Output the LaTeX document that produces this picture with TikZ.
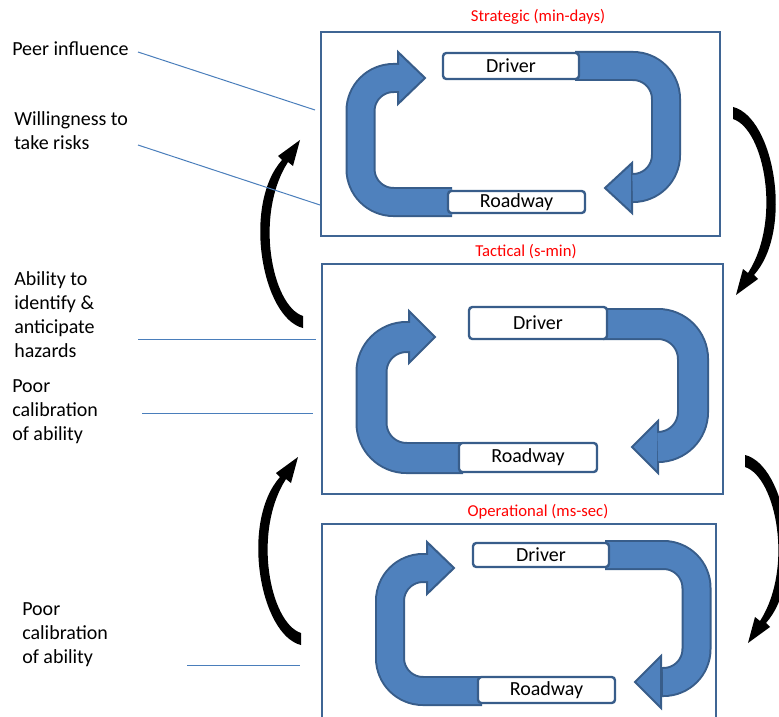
\documentclass[tikz,border=0pt]{standalone}
\usepackage{fontspec}
\setmainfont{Carlito}
\definecolor{rimcol}{HTML}{385D8A}
\definecolor{panelcol}{HTML}{3F6594}
\definecolor{bandcol}{HTML}{4F81BD}
\definecolor{leadcol}{HTML}{4A7EBB}
\begin{document}
\begin{tikzpicture}[x=0.75pt,y=-0.75pt,
  panel/.style={draw=panelcol, line width=1.8pt, inner sep=0},
  ptitle/.style={text=red, inner sep=0, font=\fontsize{12.5}{15}\selectfont},
  tagbox/.style={draw=rimcol, line width=1.8pt, fill=white, rounded corners=2.5pt,
    inner sep=0, font=\fontsize{15}{18}\selectfont},
  sidenote/.style={anchor=north west, align=left, inner sep=0,
    font=\fontsize{15}{18}\selectfont},
  leader/.style={draw=leadcol, line width=0.75pt},
  rim/.style={draw=rimcol, line width=#1},
  band/.style={draw=bandcol, line width=#1},
  uhead/.style={fill=bandcol, draw=rimcol, line width=1.5pt, line join=miter},
  swoosh/.pic={
    \fill[black] (20,98) .. controls (-21,88) and (-41,-25) .. (-1,-70)
      -- (-5,-74) -- (17,-90) -- (10,-64) -- (5,-68)
      .. controls (-29,-15) and (-11,76) .. (20,86) -- cycle;
  }]
\useasboundingbox (0,0) rectangle (779,717);

% ---------- panels ----------
\node[panel, minimum width=299.25pt, minimum height=153pt] (strategic) at (520.5,134) {};
\node[panel, minimum width=300.75pt, minimum height=172.5pt] (tactical) at (522.5,379) {};
\node[panel, minimum width=295.5pt, minimum height=154.5pt] (operational) at (519,627) {};

\node[ptitle] (t1) at (538,17) {Strategic (min-days)};
\node[ptitle] (t2) at (526,252) {Tactical (s-min)};
\node[ptitle] (t3) at (538,512) {Operational (ms-sec)};

% ---------- strategic loop ----------
\draw[rim=22.5pt, rounded corners=24.75pt] (575,66) -- (666,66) -- (666,188) -- (632,188);
\filldraw[uhead] (632,163) -- (605,188) -- (632,213) -- cycle;
\draw[band=19.5pt, rounded corners=24.75pt] (575,66) -- (666,66) -- (666,188) -- (634,188);

\draw[rim=22.5pt, rounded corners=24.75pt] (452,202) -- (360.5,202) -- (360.5,78) -- (398,78);
\filldraw[uhead] (398,52) -- (425,78) -- (398,104) -- cycle;
\draw[band=19.5pt, rounded corners=24.75pt] (452,202) -- (360.5,202) -- (360.5,78) -- (400,78);

\node[tagbox, minimum width=102pt, minimum height=19.5pt] (driver1) at (511,66) {Driver};
\node[tagbox, minimum width=102.75pt, minimum height=16.5pt] (road1) at (516.5,202) {Roadway};

% ---------- tactical loop ----------
\draw[rim=24pt, rounded corners=26.25pt] (603,324) -- (693,324) -- (693,447) -- (658,447);
\filldraw[uhead] (658,421) -- (632,447) -- (658,473) -- cycle;
\draw[band=21pt, rounded corners=26.25pt] (603,324) -- (693,324) -- (693,447) -- (660,447);

\draw[rim=24pt, rounded corners=26.25pt] (463,458) -- (371.5,458) -- (371.5,337) -- (409,337);
\filldraw[uhead] (409,311) -- (435,337) -- (409,363) -- cycle;
\draw[band=21pt, rounded corners=26.25pt] (463,458) -- (371.5,458) -- (371.5,337) -- (411,337);

\node[tagbox, minimum width=103.5pt, minimum height=24pt] (driver2) at (538,323) {Driver};
\node[tagbox, minimum width=103.5pt, minimum height=21.75pt] (road2) at (528,457.5) {Roadway};

% ---------- operational loop ----------
\draw[rim=22.5pt, rounded corners=24.75pt] (605,555) -- (696.5,555) -- (696.5,682) -- (661,682);
\filldraw[uhead] (661,656) -- (635,682) -- (661,708) -- cycle;
\draw[band=19.5pt, rounded corners=24.75pt] (605,555) -- (696.5,555) -- (696.5,682) -- (663,682);

\draw[rim=22.5pt, rounded corners=24.75pt] (482,691) -- (390,691) -- (390,568) -- (427,568);
\filldraw[uhead] (427,542) -- (454,568) -- (427,594) -- cycle;
\draw[band=19.5pt, rounded corners=24.75pt] (482,691) -- (390,691) -- (390,568) -- (429,568);

\node[tagbox, minimum width=102pt, minimum height=18pt] (driver3) at (541,555) {Driver};
\node[tagbox, minimum width=102.75pt, minimum height=19.5pt] (road3) at (546.5,690) {Roadway};

% ---------- curved arrows between levels ----------
\pic (up1) at (283,230) {swoosh};
\pic (up2) at (281,547) {swoosh};
\pic[rotate=180] (down1) at (753,205) {swoosh};
\pic[rotate=180] (down2) at (765,553) {swoosh};

% ---------- side notes ----------
\node[sidenote] (peer) at (12,41) {Peer influence};
\node[sidenote] (risk) at (14,111) {Willingness to\\take risks};
\node[sidenote] (hazard) at (14,271) {Ability to\\identify \&\\anticipate\\hazards};
\node[sidenote] (calib1) at (12,379) {Poor\\calibration\\of ability};
\node[sidenote] (calib2) at (22,602) {Poor\\calibration\\of ability};

\coordinate (peerA) at (138,52);   \coordinate (peerB) at (315,110);
\coordinate (riskA) at (138,145);  \coordinate (riskB) at (320,205);
\coordinate (hazA) at (138,339);   \coordinate (hazB) at (316,339);
\coordinate (calA) at (142,413);   \coordinate (calB) at (313,413);
\coordinate (cal2A) at (187,665);  \coordinate (cal2B) at (300,665);

\draw[leader] (peerA) -- (peerB);
\draw[leader] (riskA) -- (riskB);
\draw[leader] (hazA) -- (hazB);
\draw[leader] (calA) -- (calB);
\draw[leader] (cal2A) -- (cal2B);
\end{tikzpicture}
\end{document}
